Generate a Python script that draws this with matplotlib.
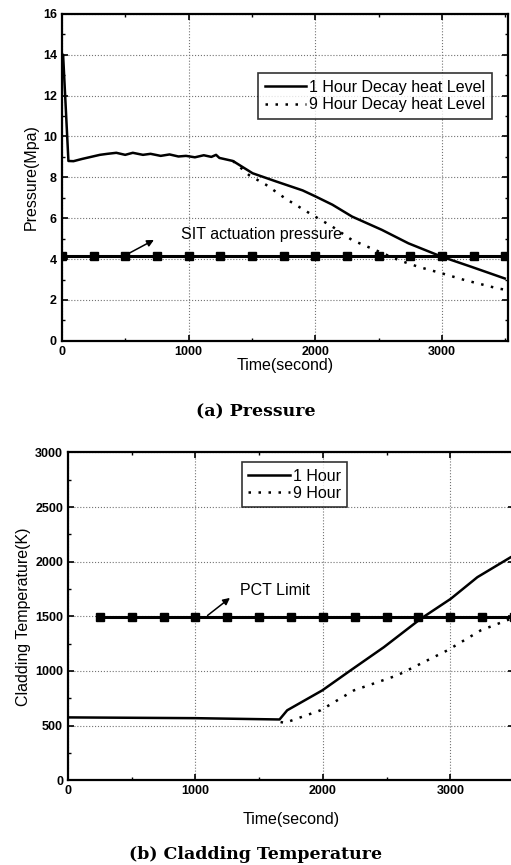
import matplotlib
matplotlib.use("Agg")
import matplotlib.pyplot as plt
from matplotlib.ticker import MultipleLocator

plt.rcParams['font.family'] = ['Liberation Sans', 'DejaVu Sans']

# (a) Pressure, 1 hour decay heat level
p1_time = [0, 10, 52, 92, 160, 230, 300, 360, 430, 500, 560, 640, 700, 780, 850,
           920, 980, 1050, 1120, 1180, 1217, 1243, 1350, 1505, 1690, 1900, 2000,
           2135, 2290, 2525, 2735, 3000, 3232, 3495]
p1_val = [13.6, 14.0, 8.8, 8.79, 8.9, 9.0, 9.1, 9.15, 9.2, 9.1, 9.2, 9.1, 9.15, 9.05,
          9.12, 9.02, 9.05, 8.98, 9.08, 9.0, 9.1, 8.95, 8.8, 8.2, 7.8, 7.36, 7.07,
          6.66, 6.08, 5.43, 4.77, 4.11, 3.62, 3.05]

# (a) Pressure, 9 hour decay heat level (follows 1 hour curve until ~1350 s)
p9_time = [1350, 1479, 1610, 1767, 1976, 2134, 2290, 2474, 2657, 2814, 3000, 3180, 3442, 3500]
p9_val = [8.8, 8.1, 7.64, 6.95, 6.16, 5.59, 4.93, 4.44, 3.95, 3.62, 3.3, 2.97, 2.56, 2.5]

sit_time = [0, 250, 500, 750, 1000, 1250, 1500, 1750, 2000, 2250, 2500, 2750, 3000, 3250, 3500]
sit_val = [4.13] * len(sit_time)

# (b) Cladding temperature
t1_time = [0, 1000, 1660, 1720, 1995, 2217, 2479, 2767, 3003, 3212, 3474, 3500]
t1_val = [575, 568, 556, 640, 822, 1005, 1218, 1477, 1660, 1858, 2041, 2055]
t9_time = [1668, 1700, 1982, 2243, 2584, 2976, 3238, 3474, 3500]
t9_val = [533, 524, 640, 822, 960, 1188, 1371, 1477, 1490]

pct_time = [250, 500, 750, 1000, 1250, 1500, 1750, 2000, 2250, 2500, 2750, 3000, 3250, 3500]
pct_val = [1490] * len(pct_time)


def style_axes(ax, xmin_step, ymaj, ymin):
    ax.xaxis.set_major_locator(MultipleLocator(1000))
    ax.xaxis.set_minor_locator(MultipleLocator(xmin_step))
    ax.yaxis.set_major_locator(MultipleLocator(ymaj))
    ax.yaxis.set_minor_locator(MultipleLocator(ymin))
    ax.tick_params(which='both', direction='in', top=True, right=True, labelsize=9)
    ax.tick_params(which='major', length=4, width=1.2)
    ax.tick_params(which='minor', length=2.5, width=1)
    for lab in ax.get_xticklabels() + ax.get_yticklabels():
        lab.set_fontweight('bold')
    for s in ax.spines.values():
        s.set_linewidth(1.6)
    ax.grid(True, which='major', linestyle=':', color='0.45', linewidth=0.8)


fig = plt.figure(figsize=(5.11, 8.65), dpi=100)

# top panel
ax1 = fig.add_axes([0.121, 0.606, 0.873, 0.378])
ax1.plot(p1_time, p1_val, color='black', lw=1.8, label='1 Hour Decay heat Level')
ax1.plot(p9_time, p9_val, color='black', lw=1.8, linestyle=(0, (1, 3)),
         label='9 Hour Decay heat Level')
ax1.plot(sit_time, sit_val, color='black', lw=2.2, marker='s', markersize=6)
ax1.set_xlim(0, 3520)
ax1.set_ylim(0, 16)
style_axes(ax1, 500, 2, 1)
ax1.set_xlabel('Time(second)', fontsize=11.5, labelpad=0)
ax1.set_ylabel('Pressure(Mpa)', fontsize=11.5, labelpad=3)
ax1.annotate('', xy=(746, 5.0), xytext=(490, 4.15),
             arrowprops=dict(arrowstyle='-|>', color='black', lw=1.1, mutation_scale=10))
ax1.text(942, 5.18, 'SIT actuation pressure', fontsize=11.5, va='center')
leg1 = ax1.legend(loc='upper right', bbox_to_anchor=(0.964, 0.818), fontsize=11.5,
                  frameon=True, fancybox=False, edgecolor='black', handlelength=2.6,
                  borderpad=0.4, labelspacing=0.15, handletextpad=0.2, borderaxespad=0)
leg1.get_frame().set_linewidth(1.2)
fig.text(0.5, 0.524, '(a) Pressure', ha='center', va='center', fontsize=12.5,
         fontweight='bold', family='DejaVu Serif')

# bottom panel
ax2 = fig.add_axes([0.133, 0.098, 0.873, 0.379])
ax2.plot(t1_time, t1_val, color='black', lw=1.8, label='1 Hour')
ax2.plot(t9_time, t9_val, color='black', lw=1.8, linestyle=(0, (1, 3)), label='9 Hour')
ax2.plot(pct_time, pct_val, color='black', lw=2.2, marker='s', markersize=6)
ax2.set_xlim(0, 3500)
ax2.set_ylim(0, 3000)
style_axes(ax2, 500, 500, 250)
ax2.set_xlabel('Time(second)', fontsize=11.5, labelpad=11)
ax2.set_ylabel('Cladding Temperature(K)', fontsize=11.5, labelpad=3)
ax2.annotate('', xy=(1288, 1684), xytext=(1078, 1492),
             arrowprops=dict(arrowstyle='-|>', color='black', lw=1.1, mutation_scale=10))
ax2.text(1348, 1736, 'PCT Limit', fontsize=11.5, va='center')
leg2 = ax2.legend(loc='upper left', bbox_to_anchor=(0.39, 0.97), fontsize=11.5,
                  frameon=True, fancybox=False, edgecolor='black', handlelength=2.6,
                  borderpad=0.4, labelspacing=0.15, handletextpad=0.2, borderaxespad=0)
leg2.get_frame().set_linewidth(1.2)
fig.text(0.5, 0.012, '(b) Cladding Temperature', ha='center', va='center', fontsize=12.5,
         fontweight='bold', family='DejaVu Serif')

fig.savefig('out.png', dpi=100)
